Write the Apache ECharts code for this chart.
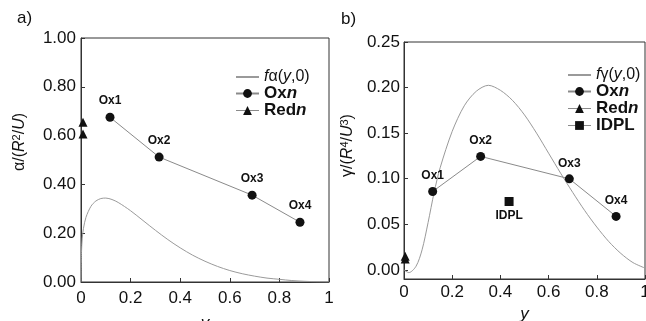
<!DOCTYPE html>
<html><head><meta charset="utf-8">
<script src="https://cdn.jsdelivr.net/npm/echarts@6/dist/echarts.min.js"></script>
<style>html,body{margin:0;padding:0;background:#fff}#c{width:646px;height:321px}</style>
</head><body><div id="c"></div>
<script>
// ---- data ----
const xTicks = [0, 0.2, 0.4, 0.6, 0.8, 1];
const yTicksA = [0, 0.2, 0.4, 0.6, 0.8, 1.0];
const yTicksB = [0, 0.05, 0.10, 0.15, 0.20, 0.25];

const curveA_x = [0, 0.002, 0.005, 0.01, 0.02, 0.04, 0.06, 0.08, 0.1, 0.125, 0.15, 0.2, 0.25, 0.3, 0.35, 0.4, 0.45, 0.5, 0.55, 0.6, 0.65, 0.7, 0.75, 0.8, 0.85, 0.9, 0.95, 1.0];
const curveA_y = [0, 0.12, 0.18, 0.22, 0.265, 0.31, 0.332, 0.342, 0.344, 0.338, 0.326, 0.292, 0.252, 0.212, 0.174, 0.14, 0.11, 0.085, 0.064, 0.047, 0.034, 0.024, 0.016, 0.011, 0.006, 0.003, 0.001, 0];

const curveB_x = [0, 0.02, 0.05, 0.075, 0.1, 0.125, 0.15, 0.2, 0.25, 0.3, 0.35, 0.4, 0.45, 0.5, 0.55, 0.6, 0.65, 0.7, 0.75, 0.8, 0.85, 0.9, 0.95, 1.0];
const curveB_y = [0, -0.003, 0.004, 0.022, 0.052, 0.085, 0.112, 0.152, 0.18, 0.196, 0.2025, 0.197, 0.186, 0.17, 0.15, 0.128, 0.106, 0.085, 0.065, 0.047, 0.031, 0.018, 0.008, 0.002];

const oxLabels = ['Ox1', 'Ox2', 'Ox3', 'Ox4'];
const oxA_x = [0.117, 0.315, 0.69, 0.883];
const oxA_y = [0.675, 0.512, 0.356, 0.245];
const redA_x = [0.008, 0.008];
const redA_y = [0.607, 0.655];

const oxB_x = [0.119, 0.318, 0.686, 0.88];
const oxB_y = [0.086, 0.1245, 0.0999, 0.0587];
const redB_x = [0.005, 0.005];
const redB_y = [0.012, 0.015];
const idpl_x = [0.436];
const idpl_y = [0.075];
const idplLabels = ['IDPL'];

// ---- helpers ----
const zip = (xs, ys) => xs.map((x, i) => [x, ys[i]]);
const FONT = '"Liberation Sans", Arial, sans-serif';
const INK = '#111';
const LINE = '#8a8a8a';
const CURVE = '#9a9a9a';

const chart = echarts.init(document.getElementById('c'));

function xAxisCfg(gridIndex, margin, nameGap) {
  return {
    type: 'value', gridIndex, min: 0, max: 1, interval: 0.2,
    name: 'y', nameLocation: 'middle', nameGap,
    nameTextStyle: { fontFamily: FONT, fontSize: 17, fontStyle: 'italic', color: INK },
    axisLine: { onZero: false, lineStyle: { color: '#333', width: 1 } },
    axisTick: { inside: true, length: 4, lineStyle: { color: '#333' } },
    splitLine: { show: false },
    axisLabel: { margin, fontFamily: FONT, fontSize: 17, color: INK,
      formatter: v => String(+v.toFixed(1)) }
  };
}

const rich = {
  n: { fontFamily: FONT, fontSize: 16, color: INK },
  i: { fontFamily: FONT, fontSize: 16, fontStyle: 'italic', color: INK },
  s: { fontFamily: FONT, fontSize: 11, color: INK, verticalAlign: 'top', padding: [0, 0, 7, 0] }
};

const legendRich = {
  n: { fontFamily: FONT, fontSize: 16, color: INK, lineHeight: 14 },
  i: { fontFamily: FONT, fontSize: 16, fontStyle: 'italic', color: INK, lineHeight: 14 },
  b: { fontFamily: FONT, fontSize: 17, fontWeight: 'bold', color: INK, lineHeight: 14 },
  bi: { fontFamily: FONT, fontSize: 17, fontWeight: 'bold', fontStyle: 'italic', color: INK, lineHeight: 14 }
};

const option = {
  animation: false,
  backgroundColor: '#fff',
  textStyle: { fontFamily: FONT },
  title: [
    { text: 'a)', left: 12, top: 5, textStyle: { fontFamily: FONT, fontSize: 17, fontWeight: 'normal', color: INK } },
    { text: 'b)', left: 336, top: 6, textStyle: { fontFamily: FONT, fontSize: 17, fontWeight: 'normal', color: INK } }
  ],
  grid: [
    { left: 81, top: 38, width: 248, height: 244, show: true, borderColor: '#333', borderWidth: 1, backgroundColor: 'transparent', containLabel: false, outerBoundsMode: 'none' },
    { left: 404, top: 42, width: 241, height: 237, show: true, borderColor: '#333', borderWidth: 1, backgroundColor: 'transparent', containLabel: false, outerBoundsMode: 'none' }
  ],
  xAxis: [xAxisCfg(0, 8, 33), xAxisCfg(1, 5, 15)],
  yAxis: [
    {
      type: 'value', gridIndex: 0, min: 0, max: 1, interval: 0.2,
      name: '{n|α/(}{i|R}{s|2}{n|/}{i|U}{n|)}', nameLocation: 'middle', nameGap: 52,
      nameTextStyle: { rich, padding: [0, 0, 0, 36] },
      axisLine: { lineStyle: { color: '#333' } },
      axisTick: { inside: true, length: 4, lineStyle: { color: '#333' } },
      splitLine: { show: false },
      axisLabel: { margin: 5, fontFamily: FONT, fontSize: 17, color: INK, formatter: v => v.toFixed(2) }
    },
    {
      type: 'value', gridIndex: 1, min: -0.01, max: 0.25,
      name: '{n|γ/(}{i|R}{s|4}{n|/}{i|U}{s|3}{n|)}', nameLocation: 'middle', nameGap: 47,
      nameTextStyle: { rich, padding: [0, 0, 0, 30] },
      axisLine: { onZero: false, lineStyle: { color: '#333' } },
      axisTick: { inside: true, length: 4, lineStyle: { color: '#333' }, customValues: yTicksB },
      splitLine: { show: false },
      axisLabel: { margin: 4, fontFamily: FONT, fontSize: 17, color: INK, customValues: yTicksB, formatter: v => v.toFixed(2) }
    }
  ],
  legend: [
    {
      left: 230, top: 64, orient: 'vertical', itemWidth: 23, itemHeight: 11, itemGap: 0,
      selectedMode: false,
      data: [
        { name: 'fa', itemStyle: { opacity: 0 } },
        { name: 'OxA' },
        { name: 'RedA', lineStyle: { opacity: 1, width: 1, color: LINE } }
      ],
      formatter: n => ({ fa: '{i|f}{n|α(}{i|y}{n|,0)}', OxA: '{b|Ox}{bi|n}', RedA: '{b|Red}{bi|n}' }[n]),
      textStyle: { lineHeight: 14, rich: legendRich }
    },
    {
      left: 562, top: 62, orient: 'vertical', itemWidth: 23, itemHeight: 11, itemGap: 0,
      selectedMode: false,
      data: [
        { name: 'fg', itemStyle: { opacity: 0 } },
        { name: 'OxB' },
        { name: 'RedB', lineStyle: { opacity: 1, width: 1, color: LINE } },
        { name: 'IDPL', lineStyle: { opacity: 1, width: 1, color: LINE } }
      ],
      formatter: n => ({ fg: '{i|f}{n|γ(}{i|y}{n|,0)}', OxB: '{b|Ox}{bi|n}', RedB: '{b|Red}{bi|n}', IDPL: '{b|IDPL}' }[n]),
      textStyle: { lineHeight: 14, rich: legendRich }
    }
  ],
  series: [
    { name: 'fa', type: 'line', xAxisIndex: 0, yAxisIndex: 0, data: zip(curveA_x, curveA_y),
      symbol: 'none', smooth: 0.3, lineStyle: { color: CURVE, width: 1 }, itemStyle: { color: CURVE }, z: 2 },
    { name: 'OxA', type: 'line', xAxisIndex: 0, yAxisIndex: 0, data: zip(oxA_x, oxA_y),
      symbol: 'circle', symbolSize: 9, lineStyle: { color: LINE, width: 1 }, itemStyle: { color: INK },
      label: { show: true, position: 'top', distance: 6, fontFamily: FONT, fontSize: 12, fontWeight: 'bold', color: INK,
        formatter: p => oxLabels[p.dataIndex] }, z: 3 },
    { name: 'RedA', type: 'line', xAxisIndex: 0, yAxisIndex: 0, data: zip(redA_x, redA_y),
      symbol: 'triangle', symbolSize: 9, lineStyle: { opacity: 0 }, itemStyle: { color: INK }, z: 3 },

    { name: 'fg', type: 'line', xAxisIndex: 1, yAxisIndex: 1, data: zip(curveB_x, curveB_y),
      symbol: 'none', smooth: 0.3, lineStyle: { color: CURVE, width: 1 }, itemStyle: { color: CURVE }, z: 2 },
    { name: 'OxB', type: 'line', xAxisIndex: 1, yAxisIndex: 1, data: zip(oxB_x, oxB_y),
      symbol: 'circle', symbolSize: 9, lineStyle: { color: LINE, width: 1 }, itemStyle: { color: INK },
      label: { show: true, position: 'top', distance: 5, fontFamily: FONT, fontSize: 12, fontWeight: 'bold', color: INK,
        formatter: p => oxLabels[p.dataIndex] }, z: 3 },
    { name: 'RedB', type: 'line', xAxisIndex: 1, yAxisIndex: 1, data: zip(redB_x, redB_y),
      symbol: 'triangle', symbolSize: 9, lineStyle: { opacity: 0 }, itemStyle: { color: INK }, z: 3 },
    { name: 'IDPL', type: 'line', xAxisIndex: 1, yAxisIndex: 1, data: zip(idpl_x, idpl_y),
      symbol: 'rect', symbolSize: 9, lineStyle: { opacity: 0 }, itemStyle: { color: INK },
      label: { show: true, position: 'bottom', distance: 4, fontFamily: FONT, fontSize: 12, fontWeight: 'bold', color: INK,
        formatter: p => idplLabels[p.dataIndex] }, z: 3 }
  ]
};
chart.setOption(option);
</script>
</body></html>
